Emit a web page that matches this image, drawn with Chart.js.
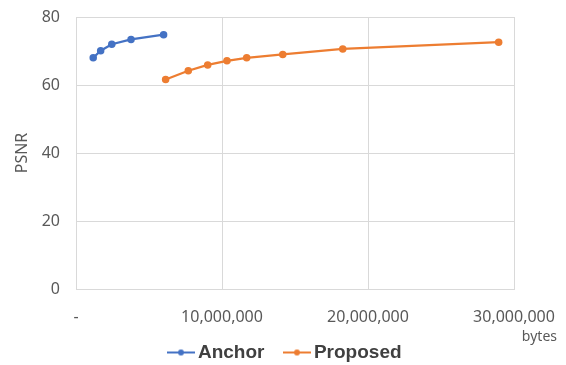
<!DOCTYPE html>
<html>
<head>
<meta charset="utf-8">
<script src="https://cdn.jsdelivr.net/npm/chart.js@4.4.1/dist/chart.umd.min.js"></script>
<style>
  html, body { margin: 0; padding: 0; background: #fff; }
  #wrap { width: 566px; height: 365px; }
</style>
</head>
<body>
<div id="wrap"><canvas id="myChart" width="566" height="365"></canvas></div>
<script>
// values
const anchorBytes = [1180000, 1690000, 2450000, 3770000, 6000000];
const anchorPsnr = [68.0, 70.1, 72.0, 73.4, 74.8];

const proposedBytes = [6140000, 7690000, 9020000, 10340000, 11690000, 14160000, 18270000, 28950000];
const proposedPsnr = [61.6, 64.2, 65.9, 67.1, 68.0, 69.0, 70.6, 72.6];

const seriesNames = ['Anchor', 'Proposed'];
const seriesColors = ['#4472C4', '#ED7D31'];

function toPoints(xs, ys) {
    return xs.map((x, i) => ({ x: x, y: ys[i] }));
}

// legend icon: line with a dot, drawn in the right part of a wider image
// so the gap between legend items comes out like the Excel one
function legendIcon(color) {
    const c = document.createElement('canvas');
    c.width = 48;
    c.height = 8;
    const g = c.getContext('2d');
    g.strokeStyle = color;
    g.lineWidth = 2;
    g.beginPath();
    g.moveTo(20, 4);
    g.lineTo(48, 4);
    g.stroke();
    g.fillStyle = color;
    g.beginPath();
    g.arc(34, 4, 3, 0, Math.PI * 2);
    g.fill();
    return c;
}
const legendIcons = seriesColors.map(legendIcon);

// "bytes" sits to the right, under the last tick label
const bytesLabel = {
    id: 'bytesLabel',
    afterDraw(chart) {
        const ctx = chart.ctx;
        ctx.save();
        ctx.font = '14px "Noto Sans"';
        ctx.fillStyle = '#595959';
        ctx.textAlign = 'right';
        ctx.textBaseline = 'alphabetic';
        ctx.fillText('bytes', 557, 341);
        ctx.restore();
    }
};

const ctx = document.getElementById('myChart').getContext('2d');
const myChart = new Chart(ctx, {
    type: 'scatter',
    data: {
        datasets: [
            {
                label: seriesNames[0],
                data: toPoints(anchorBytes, anchorPsnr),
                borderColor: seriesColors[0],
                backgroundColor: seriesColors[0],
                showLine: true,
                borderWidth: 2.25,
                pointRadius: 3.75,
                pointBorderWidth: 0,
            },
            {
                label: seriesNames[1],
                data: toPoints(proposedBytes, proposedPsnr),
                borderColor: seriesColors[1],
                backgroundColor: seriesColors[1],
                showLine: true,
                borderWidth: 2.25,
                pointRadius: 3.75,
                pointBorderWidth: 0,
            },
        ],
    },
    options: {
        responsive: false,
        animation: false,
        devicePixelRatio: 1,
        layout: {
            padding: { top: 17, right: 11, bottom: -7, left: 0 },
        },
        font: { family: '"Noto Sans", sans-serif' },
        scales: {
            x: {
                type: 'linear',
                position: 'bottom',
                min: 0,
                max: 30000000,
                afterFit: scale => {
                    scale.height = 49;
                    // tick labels may hang over the sides, the layout padding handles it
                    scale.paddingLeft = 0;
                    scale.paddingRight = 0;
                },
                ticks: {
                    stepSize: 10000000,
                    padding: 19,
                    color: '#595959',
                    font: { size: 16 },
                    maxRotation: 0,
                    callback: v => v === 0 ? '-' : v.toLocaleString('en-US'),
                },
                grid: { color: '#d9d9d9', drawTicks: false },
                border: { color: '#d9d9d9' },
            },
            y: {
                type: 'linear',
                position: 'left',
                min: 0,
                max: 80,
                afterFit: scale => {
                    scale.width = 76;
                    scale.paddingTop = 0;
                    scale.paddingBottom = 0;
                },
                ticks: {
                    stepSize: 20,
                    padding: 16,
                    color: '#595959',
                    font: { size: 16 },
                },
                grid: { color: '#d9d9d9', drawTicks: false },
                border: { color: '#d9d9d9' },
                title: {
                    display: true,
                    text: 'PSNR',
                    color: '#595959',
                    font: { size: 16 },
                    padding: { top: 13, bottom: 0 },
                },
            },
            // empty right-hand spacer so the plot ends at 30,000,000
            yRight: {
                type: 'linear',
                position: 'right',
                min: 0,
                max: 80,
                afterFit: scale => {
                    scale.width = 41;
                    scale.paddingTop = 0;
                    scale.paddingBottom = 0;
                },
                ticks: { display: false },
                grid: { display: false, drawTicks: false },
                border: { display: false },
            },
        },
        plugins: {
            tooltip: { enabled: false },
            legend: {
                position: 'bottom',
                labels: {
                    usePointStyle: true,
                    pointStyleWidth: 35,
                    padding: 5,
                    color: '#404040',
                    font: { size: 19, weight: 'bold' },
                    generateLabels(chart) {
                        const items = Chart.defaults.plugins.legend.labels.generateLabels(chart);
                        items.forEach((it, i) => { it.pointStyle = legendIcons[i]; });
                        return items;
                    },
                },
            },
        },
    },
    plugins: [bytesLabel],
});
</script>
</body>
</html>
